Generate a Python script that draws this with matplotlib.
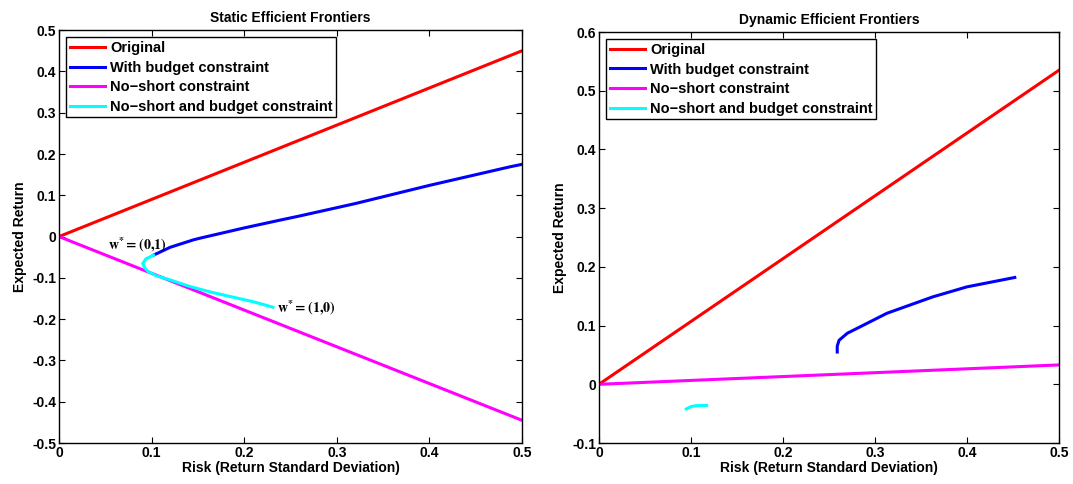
import matplotlib
matplotlib.use('Agg')
import matplotlib.pyplot as plt
import numpy as np

plt.rcParams['font.family'] = ['Liberation Sans', 'DejaVu Sans']
plt.rcParams['font.weight'] = 'bold'
plt.rcParams['mathtext.fontset'] = 'stix'

labels = ['Original', 'With budget constraint', 'No\u2212short constraint',
          'No\u2212short and budget constraint']
colors = ['#ff0000', '#0000ff', '#ff00ff', '#00ffff']

# Static frontiers (left)
s_orig_x = [0.0, 0.5]
s_orig_y = [0.0, 0.45]
s_budget_x = [0.102, 0.12, 0.145, 0.152, 0.2, 0.239, 0.26, 0.32, 0.4, 0.487, 0.5]
s_budget_y = [-0.045, -0.026, -0.008, -0.004, 0.021, 0.040, 0.050, 0.080, 0.124, 0.169, 0.175]
s_noshort_x = [0.0, 0.5]
s_noshort_y = [0.0, -0.445]
s_both_x = [0.102, 0.094, 0.0904, 0.0925, 0.0964, 0.105, 0.12, 0.14, 0.163, 0.21, 0.231]
s_both_y = [-0.045, -0.054, -0.065, -0.076, -0.085, -0.095, -0.105, -0.12, -0.134, -0.158, -0.171]

# Dynamic frontiers (right)
d_orig_x = [0.0, 0.5]
d_orig_y = [0.0, 0.535]
d_budget_x = [0.259, 0.259, 0.261, 0.27, 0.284, 0.313, 0.363, 0.40, 0.452]
d_budget_y = [0.055, 0.065, 0.075, 0.087, 0.098, 0.121, 0.149, 0.166, 0.182]
d_noshort_x = [0.0, 0.5]
d_noshort_y = [0.0, 0.033]
d_both_x = [0.095, 0.1, 0.105, 0.117]
d_both_y = [-0.042, -0.038, -0.0365, -0.036]

static_yticks = [-0.5, -0.4, -0.3, -0.2, -0.1, 0, 0.1, 0.2, 0.3, 0.4, 0.5]
dynamic_yticks = [-0.1, 0, 0.1, 0.2, 0.3, 0.4, 0.5, 0.6]
xticks = [0, 0.1, 0.2, 0.3, 0.4, 0.5]

fig = plt.figure(figsize=(10.73, 4.84), dpi=100)
ax1 = fig.add_axes([0.055, 0.0847, 0.4315, 0.853])
ax2 = fig.add_axes([0.5582, 0.0847, 0.4287, 0.849])


def style(ax, title, ylim, yticks):
    ax.set_xlim(0, 0.5)
    ax.set_ylim(*ylim)
    ax.set_xticks(xticks)
    ax.set_xticklabels(['%g' % t for t in xticks])
    ax.set_yticks(yticks)
    ax.set_yticklabels(['%g' % t for t in yticks])
    ax.tick_params(direction='in', top=True, right=True, length=4, width=0.8,
                   labelsize=10, pad=2)
    for s in ax.spines.values():
        s.set_linewidth(1.0)
    ax.set_title(title, fontsize=10, fontweight='bold', pad=6)
    ax.set_xlabel('Risk (Return Standard Deviation)', fontsize=10, fontweight='bold', labelpad=1)
    ax.set_ylabel('Expected Return', fontsize=10, fontweight='bold', labelpad=4)
    leg = ax.legend(loc='upper left', fontsize=10.5, fancybox=False, framealpha=1,
                    edgecolor='black', borderpad=0.25, labelspacing=0.38,
                    handlelength=2.4, handletextpad=0.35, borderaxespad=0.5)
    leg.get_frame().set_linewidth(1.0)


lw = 2.2
ax1.plot(s_orig_x, s_orig_y, color=colors[0], lw=lw, label=labels[0])
ax1.plot(s_budget_x, s_budget_y, color=colors[1], lw=lw, label=labels[1])
ax1.plot(s_noshort_x, s_noshort_y, color=colors[2], lw=lw, label=labels[2])
ax1.plot(s_both_x, s_both_y, color=colors[3], lw=lw, label=labels[3])
ax1.text(0.053, -0.02, r'$\mathbf{w}^{*}=\left(0{,}1\right)$', fontsize=10,
         fontweight='normal', va='center', ha='left')
ax1.text(0.235, -0.171, r'$\mathbf{w}^{*}=\left(1{,}0\right)$', fontsize=10,
         fontweight='normal', va='center', ha='left')
style(ax1, 'Static Efficient Frontiers', (-0.5, 0.5), static_yticks)

ax2.plot(d_orig_x, d_orig_y, color=colors[0], lw=lw, label=labels[0])
ax2.plot(d_budget_x, d_budget_y, color=colors[1], lw=lw, label=labels[1])
ax2.plot(d_noshort_x, d_noshort_y, color=colors[2], lw=lw, label=labels[2])
ax2.plot(d_both_x, d_both_y, color=colors[3], lw=lw, label=labels[3])
style(ax2, 'Dynamic Efficient Frontiers', (-0.1, 0.6), dynamic_yticks)

fig.savefig('out.png', dpi=100)
